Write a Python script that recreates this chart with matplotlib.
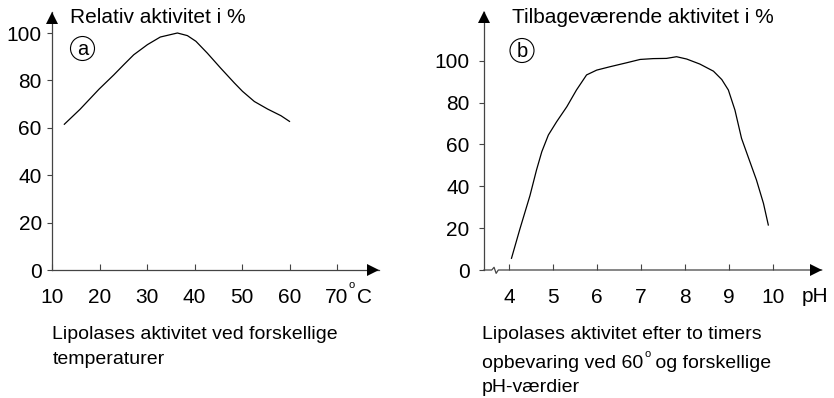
import matplotlib.pyplot as plt
from matplotlib.patches import Ellipse

plt.rcParams['font.family'] = ['Liberation Sans', 'DejaVu Sans']

# panel a: activity vs temperature
temp_c = [12.6, 15.9, 19.9, 23.0, 25.1, 27.2, 30.1, 32.8, 36.4, 38.5, 40.3, 42.7,
          45.5, 48.4, 50.1, 52.6, 55.4, 58.2, 60.0]
rel_activity = [61.5, 67.8, 76.3, 82.3, 86.6, 90.8, 95.1, 98.3, 100, 98.9, 96.5, 91.5,
                85.2, 78.9, 75.4, 71.1, 67.9, 65.1, 62.7]
temp_ticks = [10, 20, 30, 40, 50, 60, 70]
pct_ticks = [0, 20, 40, 60, 80, 100]

# panel b: remaining activity vs pH
ph = [4.05, 4.24, 4.47, 4.62, 4.74, 4.89, 5.08, 5.31, 5.53, 5.76, 5.99, 6.29, 6.67,
      6.98, 7.28, 7.58, 7.81, 8.04, 8.34, 8.65, 8.84, 8.99, 9.14, 9.29, 9.44, 9.63,
      9.79, 9.90]
rest_activity = [5.6, 19.5, 35.5, 47.8, 56.5, 64.5, 70.9, 78, 86, 93.2, 95.5, 97.1, 99,
                 100.6, 101, 101.1, 101.9, 100.8, 98.4, 95, 91, 86, 76.4, 62.9, 54.1, 43,
                 31.8, 21.5]
ph_ticks = [4, 5, 6, 7, 8, 9, 10]

W, H = 834, 398
fig = plt.figure(figsize=(W / 100, H / 100), dpi=100)

AXC = '#444444'
FS = 15


def fx(px):
    return px / W


def fy(py):
    return 1 - py / H


def setup(ax, x0, x1, y1, xticks, yticks):
    ax.set_xlim(x0, x1)
    ax.set_ylim(0, y1)
    for s in ax.spines.values():
        s.set_visible(False)
    ax.set_xticks(xticks)
    ax.set_yticks(yticks)
    ax.tick_params(axis='x', direction='in', length=4.5, width=0.8, color=AXC,
                   pad=13, labelsize=FS)
    ax.tick_params(axis='y', direction='out', length=3.8, width=0.8, color=AXC,
                   pad=4, labelsize=FS)
    ax.patch.set_visible(False)


# ---- panel a ----
pxa, pya = 4.75, 2.37
ax1 = fig.add_axes([fx(52), fy(270), fx(379 - 52), (270 - 12) / H])
xa1 = 10 + (379 - 52) / pxa
ya1 = (270 - 12) / pya
setup(ax1, 10, xa1, ya1, temp_ticks, pct_ticks)
ax1.plot([10, xa1], [0, 0], color=AXC, lw=0.9, clip_on=False)
ax1.plot([10, 10], [0, ya1], color=AXC, lw=0.9, clip_on=False)
ax1.plot([xa1 - 5.5 / pxa], [0], marker='>', ms=8, mew=0, color='k', clip_on=False)
ax1.plot([10], [ya1 - 5.5 / pya], marker='^', ms=8, mew=0, color='k', clip_on=False)
ax1.plot(temp_c, rel_activity, color='k', lw=0.9)
ax1.tick_params(axis='y', pad=3.5)

# ---- panel b ----
pxb = (772.7 - 509.3) / 6
pyb = (270 - 60.7) / 100
xb0 = 4 - (509.3 - 484) / pxb
xb1 = 4 + (821.7 - 509.3) / pxb
yb1 = (270 - 11.7) / pyb
ax2 = fig.add_axes([fx(484), fy(270), fx(821.7 - 484), (270 - 11.7) / H])
setup(ax2, xb0, xb1, yb1, ph_ticks, pct_ticks)
zx = [xb0, 3.60, 3.653, 3.70, 3.75, xb1]
zy = [0, 0, 1.3, -1.6, 0, 0]
ax2.plot(zx, zy, color=AXC, lw=0.9, clip_on=False)
ax2.plot([xb0, xb0], [0, yb1], color=AXC, lw=0.9, clip_on=False)
ax2.plot([xb1 - 5.5 / pxb], [0], marker='>', ms=8, mew=0, color='k', clip_on=False)
ax2.plot([xb0], [yb1 - 5.5 / pyb], marker='^', ms=8, mew=0, color='k', clip_on=False)
ax2.plot(ph, rest_activity, color='k', lw=0.9)
ax2.tick_params(axis='y', pad=6.5)

# unit labels on x axes
ax1.annotate('C', xy=(70, 0), xytext=(14.2, -13), textcoords='offset points',
             ha='left', va='top', fontsize=FS)
ax1.annotate('o', xy=(70, 0), xytext=(8.6, -7), textcoords='offset points',
             ha='left', va='top', fontsize=8)
fig.text(fx(815), fy(297), 'pH', ha='center', va='center', fontsize=FS)

# axis titles
fig.text(fx(70), fy(23), 'Relativ aktivitet i %', ha='left', va='baseline', fontsize=15)
fig.text(fx(512), fy(23), 'Tilbageværende aktivitet i %', ha='left', va='baseline', fontsize=15)

# circled panel letters
for cx, cy, letter in [(82.5, 48.5, 'a'), (522, 50.5, 'b')]:
    fig.patches.append(Ellipse((fx(cx), fy(cy)), 24 / W, 24 / H, transform=fig.transFigure,
                               fill=False, ec='k', lw=0.8))
    fig.text(fx(cx), fy(cy + 1), letter, ha='center', va='center', fontsize=14.5)

# captions
fig.text(fx(52.5), fy(339), 'Lipolases aktivitet ved forskellige', ha='left', va='baseline', fontsize=14)
fig.text(fx(52.5), fy(364), 'temperaturer', ha='left', va='baseline', fontsize=14)

fig.text(fx(482), fy(339), 'Lipolases aktivitet efter to timers', ha='left', va='baseline', fontsize=14)
renderer = fig.canvas.get_renderer()
t1 = fig.text(fx(482), fy(368), 'opbevaring ved 60', ha='left', va='baseline', fontsize=14)
bb = t1.get_window_extent(renderer)
deg = fig.text(bb.x1 / W + 1 / W, fy(368) + 11 / H, 'o', ha='left', va='baseline', fontsize=8)
bb2 = deg.get_window_extent(renderer)
fig.text(bb2.x1 / W, fy(368), ' og forskellige', ha='left', va='baseline', fontsize=14)
fig.text(fx(482), fy(392), 'pH-værdier', ha='left', va='baseline', fontsize=14)

fig.savefig('out.png', dpi=100)
